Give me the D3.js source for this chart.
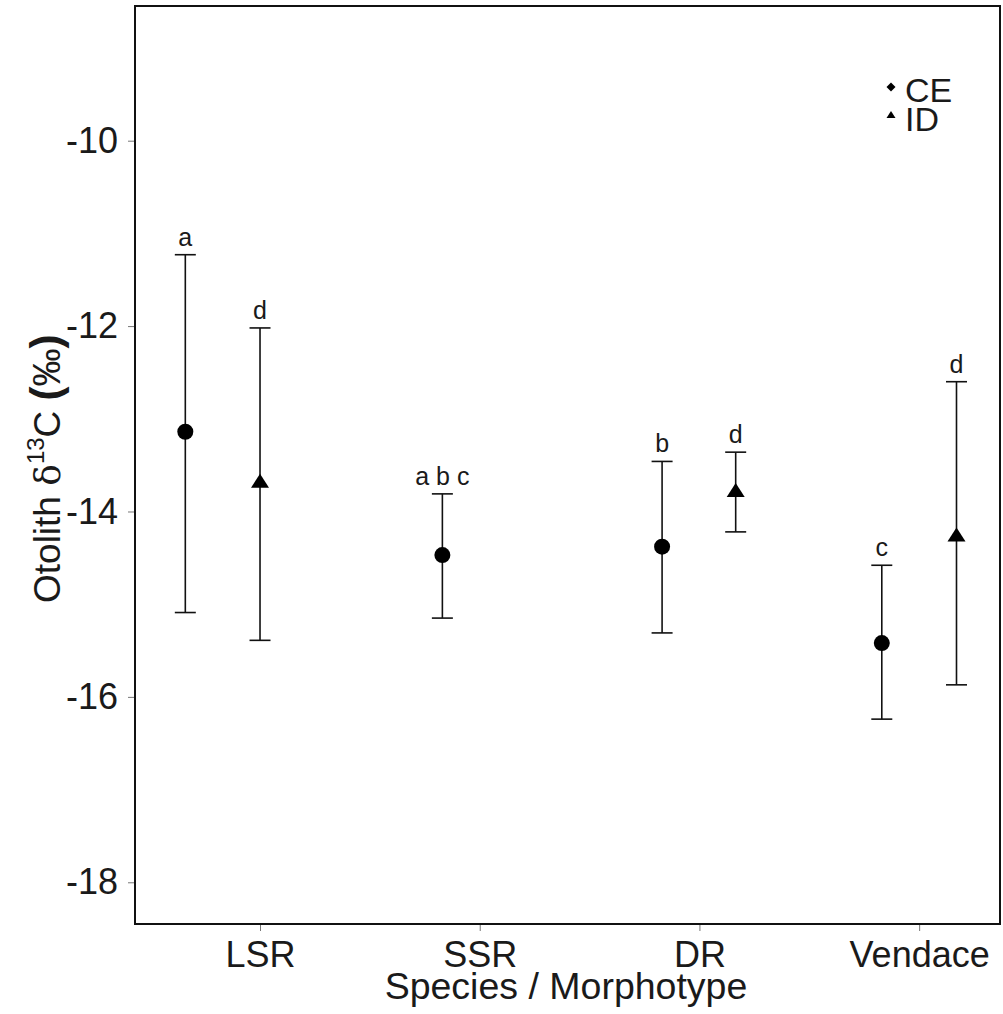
<!DOCTYPE html>
<html lang="en">
<head>
    <meta charset="UTF-8">
    <title>Otolith d13C by species / morphotype</title>
    <script src="https://d3js.org/d3.v7.min.js"></script>
    <style>
        body {
            margin: 0;
            background-color: #ffffff;
            font-family: Arial, 'Liberation Sans', sans-serif;
        }
        .tick line { stroke: #777; }
        .tick text { fill: #1a1a1a; }
    </style>
</head>
<body>
    <div id="chart"></div>
    <script>
        // Categories on the x axis and their tick positions
        const categories = ["LSR", "SSR", "DR", "Vendace"];
        const categoryPos = [1, 2, 3, 4];
        const yTicks = [-10, -12, -14, -16, -18];

        // CE (circles): x position, mean, lower, upper, letter
        const ceX = [0.66, 1.83, 2.83, 3.83];
        const ceMean = [-13.14, -14.47, -14.38, -15.42];
        const ceLow = [-15.09, -15.15, -15.31, -16.24];
        const ceHigh = [-11.23, -13.81, -13.46, -14.58];
        const ceLetter = ["a", "a b c", "b", "c"];

        // ID (triangles): no SSR group
        const idX = [1.0, 3.165, 4.17];
        const idMean = [-13.69, -13.79, -14.27];
        const idLow = [-15.39, -14.22, -15.87];
        const idHigh = [-12.02, -13.36, -12.60];
        const idLetter = ["d", "d", "d"];

        const margin = { top: 6, right: 3, bottom: 90, left: 135 };
        const width = 1003 - margin.left - margin.right;
        const height = 1014 - margin.top - margin.bottom;

        const svg = d3.select("#chart")
            .append("svg")
            .attr("width", 1003)
            .attr("height", 1014);

        const g = svg.append("g")
            .attr("transform", `translate(${margin.left},${margin.top})`);

        const xScale = d3.scaleLinear().domain([0.431, 4.368]).range([0, width]);
        const yScale = d3.scaleLinear().domain([-18.45, -8.547]).range([height, 0]);

        // build rows from the arrays
        const ce = ceX.map((x, i) => ({ x, mean: ceMean[i], lo: ceLow[i], hi: ceHigh[i], letter: ceLetter[i] }));
        const id = idX.map((x, i) => ({ x, mean: idMean[i], lo: idLow[i], hi: idHigh[i], letter: idLetter[i] }));

        // axes
        g.append("g")
            .attr("transform", `translate(0,${height})`)
            .call(d3.axisBottom(xScale).tickValues(categoryPos)
                .tickFormat((d, i) => categories[i]).tickSize(7).tickPadding(10))
            .call(a => a.select(".domain").remove())
            .selectAll("text")
            .attr("font-size", 36)
            .attr("font-family", "Arial, 'Liberation Sans', sans-serif");

        g.append("g")
            .call(d3.axisLeft(yScale).tickValues(yTicks).tickFormat(d => String(d))
                .tickSize(7).tickPadding(10))
            .call(a => a.select(".domain").remove())
            .selectAll("text")
            .attr("font-size", 36)
            .attr("font-family", "Arial, 'Liberation Sans', sans-serif");

        // box
        g.append("rect")
            .attr("x", 0).attr("y", 0)
            .attr("width", width).attr("height", height)
            .attr("fill", "none")
            .attr("stroke", "#111")
            .attr("stroke-width", 2);

        const capW = 10.5;

        function drawGroup(data, shape) {
            const grp = g.append("g");
            grp.selectAll(".bar")
                .data(data)
                .enter().append("line")
                .attr("x1", d => xScale(d.x)).attr("x2", d => xScale(d.x))
                .attr("y1", d => yScale(d.lo)).attr("y2", d => yScale(d.hi))
                .attr("stroke", "#111").attr("stroke-width", 1.6);
            ["lo", "hi"].forEach(k => {
                grp.selectAll(".cap-" + k)
                    .data(data)
                    .enter().append("line")
                    .attr("x1", d => xScale(d.x) - capW).attr("x2", d => xScale(d.x) + capW)
                    .attr("y1", d => yScale(d[k])).attr("y2", d => yScale(d[k]))
                    .attr("stroke", "#111").attr("stroke-width", 1.6);
            });
            if (shape === "circle") {
                grp.selectAll(".pt")
                    .data(data)
                    .enter().append("circle")
                    .attr("cx", d => xScale(d.x))
                    .attr("cy", d => yScale(d.mean))
                    .attr("r", 8)
                    .attr("fill", "#000");
            } else {
                grp.selectAll(".pt")
                    .data(data)
                    .enter().append("path")
                    .attr("d", d => {
                        const cx = xScale(d.x), cy = yScale(d.mean);
                        return `M${cx},${cy - 9}L${cx + 9},${cy + 5}L${cx - 9},${cy + 5}Z`;
                    })
                    .attr("fill", "#000");
            }
            grp.selectAll(".letter")
                .data(data)
                .enter().append("text")
                .attr("x", d => xScale(d.x))
                .attr("y", d => yScale(d.hi) - 9)
                .attr("text-anchor", "middle")
                .attr("font-size", 25)
                .attr("fill", "#1a1a1a")
                .style("white-space", "pre")
                .text(d => d.letter);
        }

        drawGroup(ce, "circle");
        drawGroup(id, "triangle");

        // legend
        const legend = svg.append("g").attr("transform", "translate(891,0)");
        legend.append("path").attr("d", "M0,82.5L4.5,87L0,91.5L-4.5,87Z").attr("fill", "#000");
        legend.append("path").attr("d", "M0,111L4.5,118L-4.5,118Z").attr("fill", "#000");
        legend.append("text").attr("x", 14).attr("y", 102).attr("font-size", 34).attr("fill", "#1a1a1a").text("CE");
        legend.append("text").attr("x", 14).attr("y", 131).attr("font-size", 34).attr("fill", "#1a1a1a").text("ID");

        // axis titles
        svg.append("text")
            .attr("x", 566)
            .attr("y", 999)
            .attr("text-anchor", "middle")
            .attr("font-size", 37.5)
            .attr("fill", "#1a1a1a")
            .text("Species / Morphotype");

        const yt = svg.append("text")
            .attr("transform", "translate(60,603) rotate(-90)")
            .attr("font-size", 37)
            .attr("fill", "#1a1a1a");
        yt.append("tspan").text("Otolith ");
        yt.append("tspan").attr("font-family", "'DejaVu Serif', serif").attr("font-size", 36).text("δ");
        yt.append("tspan").attr("font-size", 24).attr("dy", -16).text("13");
        yt.append("tspan").attr("dy", 16).text("C ");
        yt.append("tspan").attr("font-weight", "bold").attr("font-size", 42).text("(");
        yt.append("tspan").attr("font-size", 38).text("‰");
        yt.append("tspan").attr("font-weight", "bold").attr("font-size", 42).text(")");
    </script>
</body>
</html>
